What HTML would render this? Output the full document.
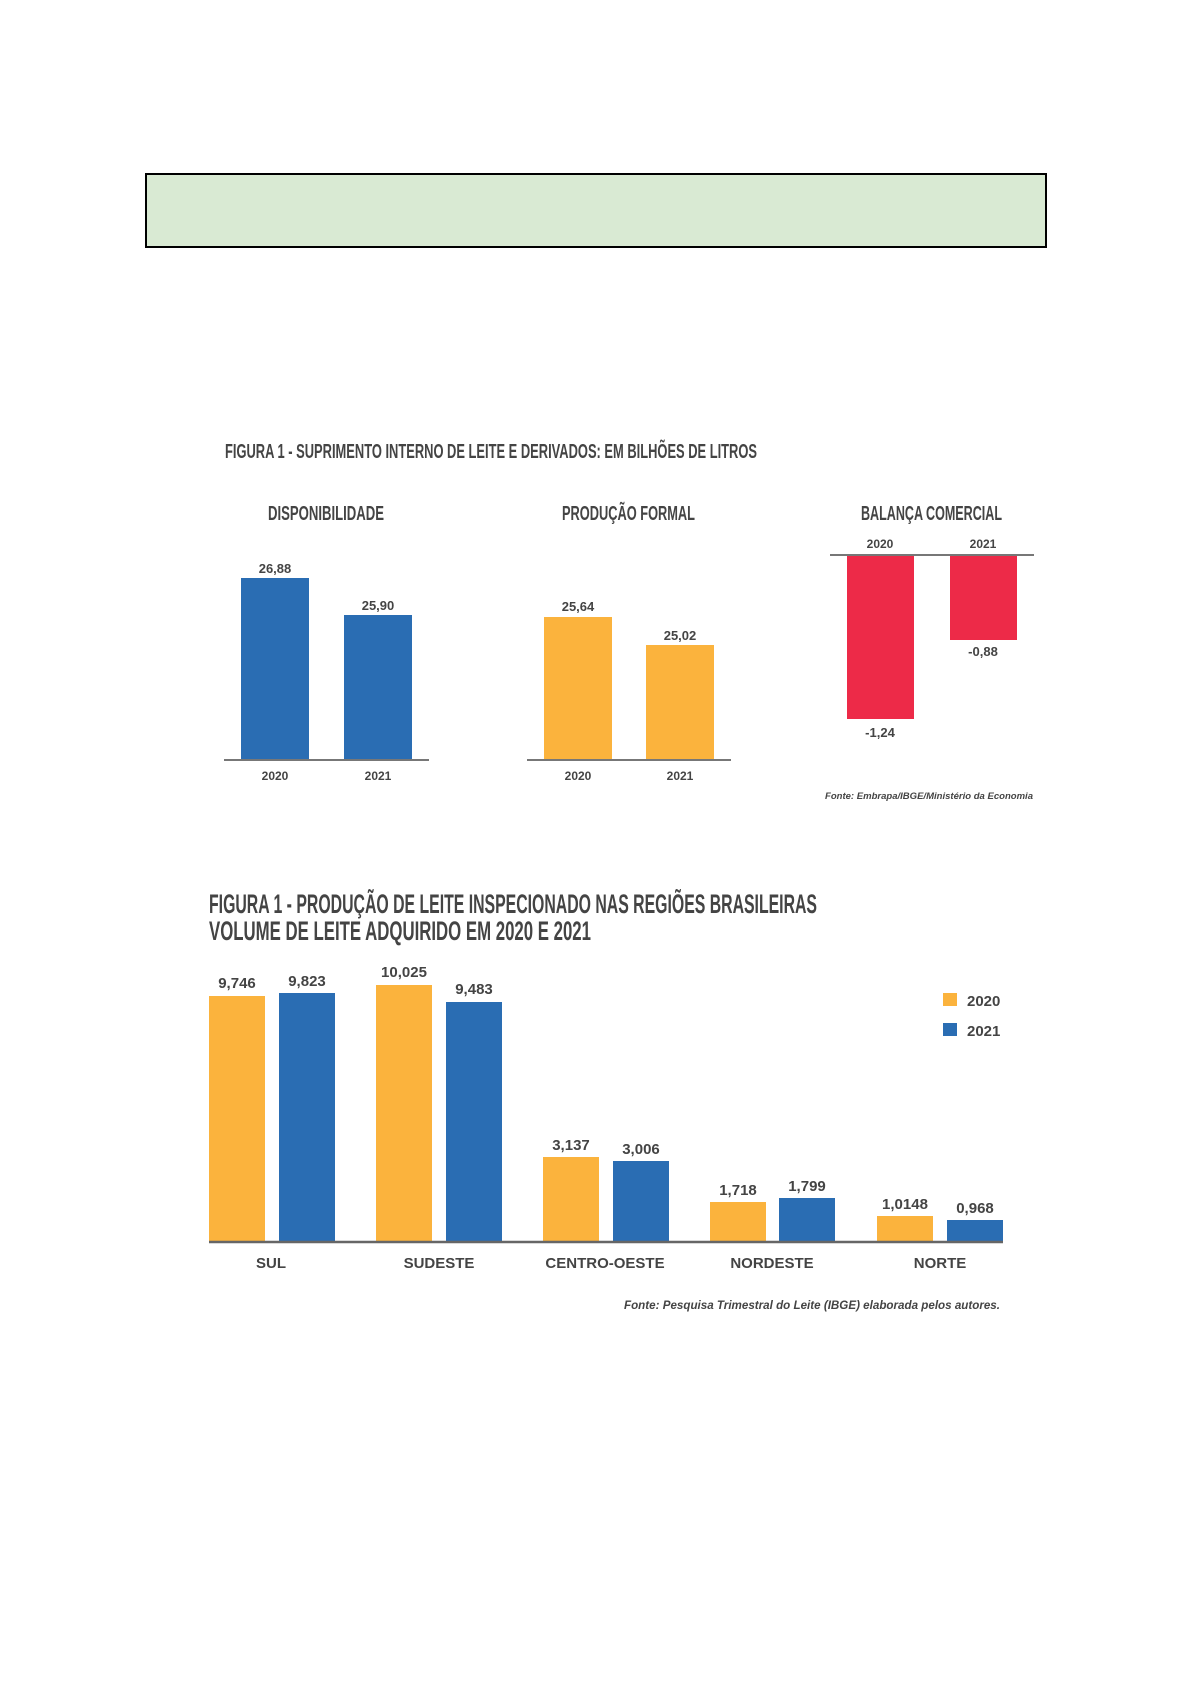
<!DOCTYPE html>
<html><head><meta charset="utf-8"><style>
html,body{margin:0;padding:0;background:#fff;}
svg{display:block}
text{font-family:"Liberation Sans",sans-serif;fill:#444;}
.t{font-weight:bold;}
.v{font-weight:bold;font-size:13px;text-anchor:middle;}
.y{font-weight:bold;font-size:12px;text-anchor:middle;}
.c{font-weight:bold;font-size:15px;text-anchor:middle;}
</style></head><body>
<svg width="1191" height="1684" viewBox="0 0 1191 1684" xmlns="http://www.w3.org/2000/svg">
<rect x="146" y="174" width="900" height="73" fill="#d9ead3" stroke="#000" stroke-width="2"/>
<text class="t" x="225" y="458" font-size="20" textLength="532" lengthAdjust="spacingAndGlyphs">FIGURA 1 - SUPRIMENTO INTERNO DE LEITE E DERIVADOS: EM BILHÕES DE LITROS</text>
<text class="t" x="268" y="520" font-size="20" textLength="116" lengthAdjust="spacingAndGlyphs">DISPONIBILIDADE</text>
<text class="t" x="562" y="520" font-size="20" textLength="133" lengthAdjust="spacingAndGlyphs">PRODUÇÃO FORMAL</text>
<text class="t" x="861" y="520" font-size="20" textLength="141" lengthAdjust="spacingAndGlyphs">BALANÇA COMERCIAL</text>
<!-- chart 1 -->
<rect x="241" y="578" width="68" height="181" fill="#2a6db3"/>
<rect x="344" y="615" width="68" height="144" fill="#2a6db3"/>
<line x1="224" y1="760" x2="429" y2="760" stroke="#777" stroke-width="2"/>
<text class="v" x="275" y="573">26,88</text>
<text class="v" x="378" y="610">25,90</text>
<text class="y" x="275" y="780">2020</text>
<text class="y" x="378" y="780">2021</text>
<!-- chart 2 -->
<rect x="544" y="617" width="68" height="142" fill="#fbb33d"/>
<rect x="646" y="645" width="68" height="114" fill="#fbb33d"/>
<line x1="527" y1="760" x2="731" y2="760" stroke="#777" stroke-width="2"/>
<text class="v" x="578" y="611">25,64</text>
<text class="v" x="680" y="640">25,02</text>
<text class="y" x="578" y="780">2020</text>
<text class="y" x="680" y="780">2021</text>
<!-- chart 3 -->
<rect x="847" y="555" width="67" height="164" fill="#ed2a48"/>
<rect x="950" y="555" width="67" height="85" fill="#ed2a48"/>
<line x1="830" y1="555" x2="1034" y2="555" stroke="#777" stroke-width="2"/>
<text class="y" x="880" y="548">2020</text>
<text class="y" x="983" y="548">2021</text>
<text class="v" x="880" y="737">-1,24</text>
<text class="v" x="983" y="656">-0,88</text>
<text x="1033" y="799" font-size="9.5" font-style="italic" font-weight="bold" text-anchor="end" textLength="208" lengthAdjust="spacingAndGlyphs">Fonte:  Embrapa/IBGE/Ministério da Economia</text>
<!-- bottom chart -->
<text class="t" x="209" y="913" font-size="27" textLength="608" lengthAdjust="spacingAndGlyphs">FIGURA 1 - PRODUÇÃO DE LEITE INSPECIONADO NAS REGIÕES BRASILEIRAS</text>
<text class="t" x="209" y="940" font-size="27" textLength="382" lengthAdjust="spacingAndGlyphs">VOLUME DE LEITE ADQUIRIDO EM 2020 E 2021</text>
<g>
<rect x="209" y="996" width="56" height="246" fill="#fbb33d"/>
<rect x="279" y="993" width="56" height="249" fill="#2a6db3"/>
<rect x="376" y="985" width="56" height="257" fill="#fbb33d"/>
<rect x="446" y="1002" width="56" height="240" fill="#2a6db3"/>
<rect x="543" y="1157" width="56" height="85" fill="#fbb33d"/>
<rect x="613" y="1161" width="56" height="81" fill="#2a6db3"/>
<rect x="710" y="1202" width="56" height="40" fill="#fbb33d"/>
<rect x="779" y="1198" width="56" height="44" fill="#2a6db3"/>
<rect x="877" y="1216" width="56" height="26" fill="#fbb33d"/>
<rect x="947" y="1220" width="56" height="22" fill="#2a6db3"/>
</g>
<line x1="209" y1="1242" x2="1003" y2="1242" stroke="#666" stroke-width="2.5"/>
<g>
<text class="v" style="font-size:15px" x="237" y="988">9,746</text>
<text class="v" style="font-size:15px" x="307" y="986">9,823</text>
<text class="v" style="font-size:15px" x="404" y="977">10,025</text>
<text class="v" style="font-size:15px" x="474" y="994">9,483</text>
<text class="v" style="font-size:15px" x="571" y="1150">3,137</text>
<text class="v" style="font-size:15px" x="641" y="1154">3,006</text>
<text class="v" style="font-size:15px" x="738" y="1195">1,718</text>
<text class="v" style="font-size:15px" x="807" y="1191">1,799</text>
<text class="v" style="font-size:15px" x="905" y="1209">1,0148</text>
<text class="v" style="font-size:15px" x="975" y="1213">0,968</text>
</g>
<text class="c" x="271" y="1268">SUL</text>
<text class="c" x="439" y="1268">SUDESTE</text>
<text class="c" x="605" y="1268">CENTRO-OESTE</text>
<text class="c" x="772" y="1268">NORDESTE</text>
<text class="c" x="940" y="1268">NORTE</text>
<rect x="943" y="993" width="14" height="13" fill="#fbb33d"/>
<rect x="943" y="1023" width="14" height="13" fill="#2a6db3"/>
<text x="967" y="1006" font-size="15" font-weight="bold">2020</text>
<text x="967" y="1036" font-size="15" font-weight="bold">2021</text>
<text x="1000" y="1309" font-size="11.5" font-style="italic" font-weight="bold" text-anchor="end" textLength="376" lengthAdjust="spacingAndGlyphs">Fonte: Pesquisa Trimestral do Leite (IBGE) elaborada pelos autores.</text>
</svg>
</body></html>
